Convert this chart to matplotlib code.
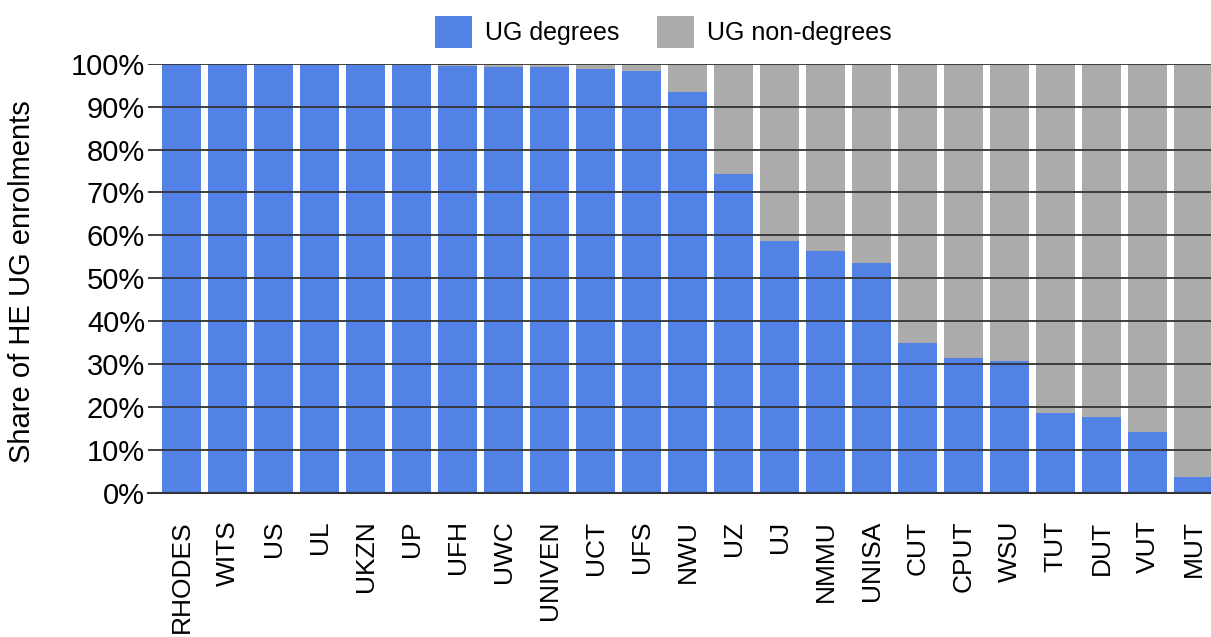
import numpy as np
import matplotlib.pyplot as plt
from matplotlib.ticker import FuncFormatter

plt.rcParams['font.family'] = ['Liberation Sans', 'DejaVu Sans']

# Institutions and share of UG enrolments in degree programmes (%)
institutions = ['RHODES', 'WITS', 'US', 'UL', 'UKZN', 'UP', 'UFH', 'UWC', 'UNIVEN',
                'UCT', 'UFS', 'NWU', 'UZ', 'UJ', 'NMMU', 'UNISA', 'CUT', 'CPUT',
                'WSU', 'TUT', 'DUT', 'VUT', 'MUT']
ug_degrees = [100.0, 100.0, 99.9, 99.9, 99.8, 99.6, 99.4, 99.3, 99.2,
              98.8, 98.2, 93.4, 74.3, 58.7, 56.3, 53.5, 34.8, 31.5,
              30.8, 18.5, 17.7, 14.1, 3.7]
ug_non_degrees = [100 - v for v in ug_degrees]

blue = '#5382e6'
grey = '#aaabaa'

fig = plt.figure(figsize=(12.11, 6.37), dpi=100)
ax = fig.add_axes([148 / 1211, 0.2265, 1063 / 1211, 0.6735])

x = np.arange(len(institutions))
ax.bar(x, ug_degrees, width=0.85, color=blue, label='UG degrees', zorder=1)
ax.bar(x, ug_non_degrees, width=0.85, bottom=ug_degrees, color=grey,
       label='UG non-degrees', zorder=1)

ax.set_xlim(-0.73, 22.38)
ax.set_ylim(0, 100)
ax.set_yticks(np.arange(0, 101, 10))
ax.yaxis.set_major_formatter(FuncFormatter(lambda v, p: f'{v:.0f}%'))
ax.grid(axis='y', color='#333333', linewidth=1.3)
ax.set_axisbelow(False)

for s in ['top', 'right', 'left']:
    ax.spines[s].set_visible(False)
ax.spines['bottom'].set_color('#333333')
ax.spines['bottom'].set_linewidth(1.5)

ax.set_xticks(x)
ax.set_xticklabels(institutions, rotation=90, va='top', ha='center')
ax.tick_params(axis='x', length=0, pad=20, labelsize=19)
ax.tick_params(axis='y', length=0, pad=2, labelsize=21)

ax.set_ylabel('Share of HE UG enrolments', fontsize=21)
ax.yaxis.set_label_coords(-0.105, 0.493)

fig.legend(loc='center', bbox_to_anchor=(0.5475, 0.95), ncol=2, frameon=False,
           fontsize=18, handlelength=1.5, handleheight=1.6, handletextpad=0.5,
           columnspacing=1.5)

fig.savefig('out.png', dpi=100)
